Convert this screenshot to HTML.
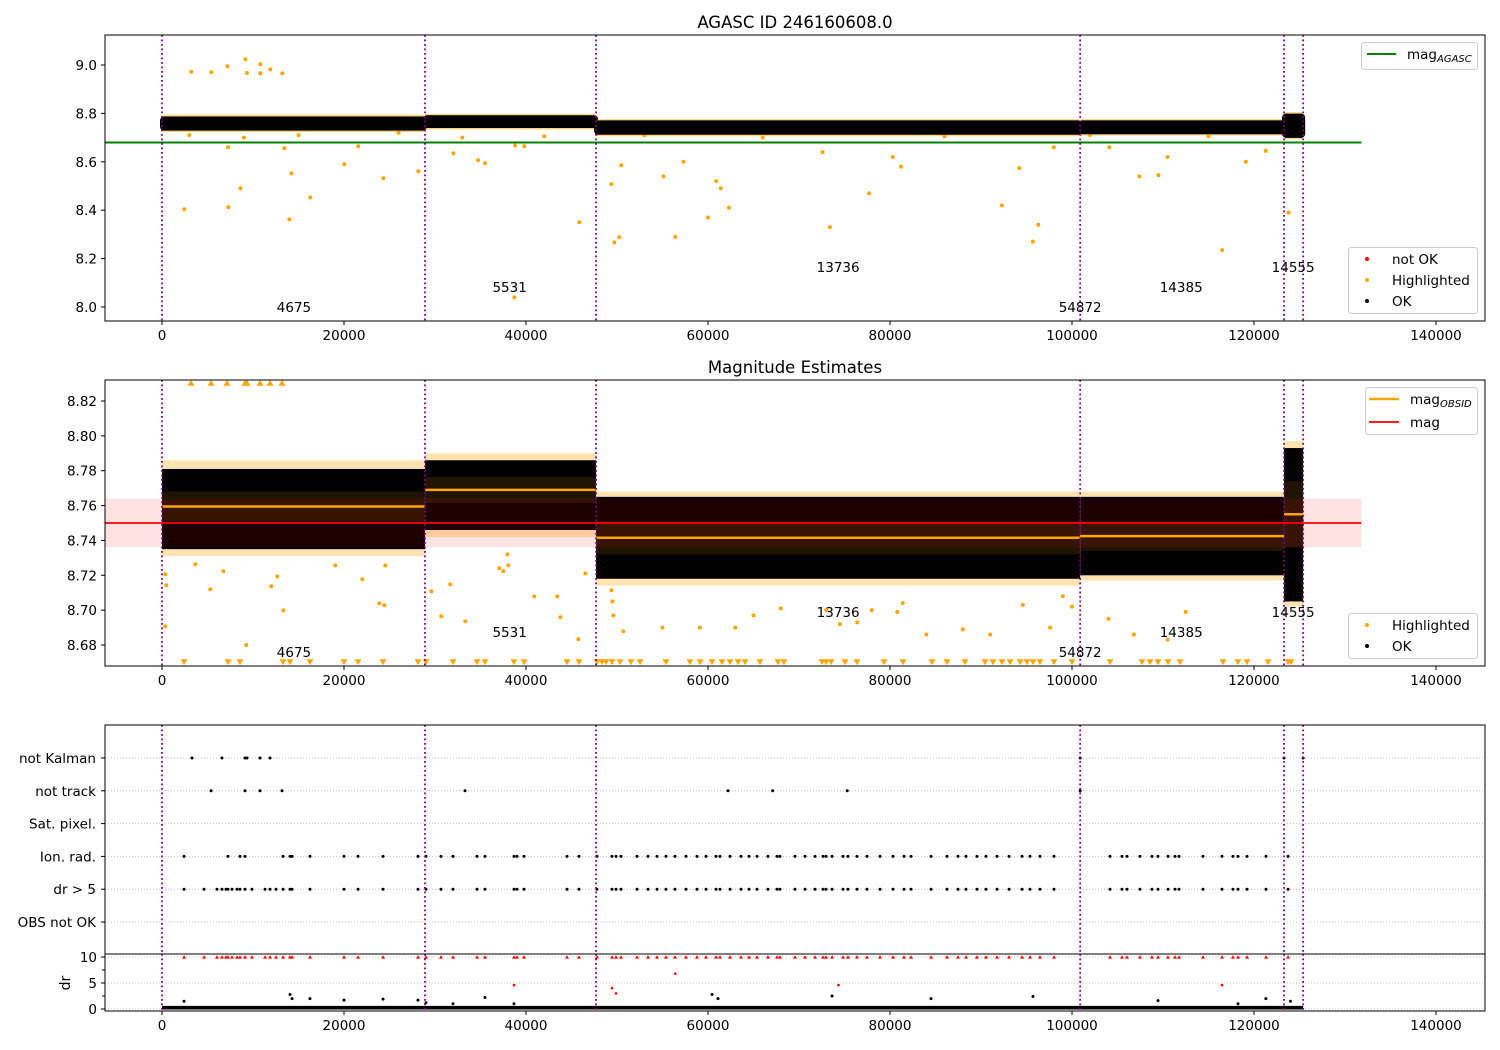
<!DOCTYPE html>
<html><head><meta charset="utf-8"><title>AGASC ID 246160608.0</title>
<style>
html,body{margin:0;padding:0;background:#fff;}
svg{display:block;font-family:"DejaVu Sans","Liberation Sans",sans-serif;}
</style></head>
<body>
<svg id="chart" width="1500" height="1050" viewBox="0 0 1500 1050" xmlns="http://www.w3.org/2000/svg">
<defs>
<clipPath id="c1"><rect x="105" y="35" width="1380" height="286"/></clipPath>
<clipPath id="c2"><rect x="105" y="380" width="1380" height="286"/></clipPath>
<clipPath id="c3"><rect x="105" y="725" width="1380" height="229"/></clipPath>
<clipPath id="c4"><rect x="105" y="954" width="1380" height="57"/></clipPath>
</defs>
<text x="795" y="28" font-size="16.5" text-anchor="middle">AGASC ID 246160608.0</text>
<text x="795" y="373" font-size="16.5" text-anchor="middle">Magnitude Estimates</text>
<text x="70" y="983" font-size="14" text-anchor="middle" transform="rotate(-90 70 983)">dr</text>
<g id="g1"></g>
<g id="g2"></g>
<g id="g3"></g>
<g id="g4"></g>
</svg>
<script>
// ---------- data ----------
const obsIds = ["4675","5531","13736","54872","14385","14555"];
const obsStart = [0,28900,47700,100900,123300];
const obsEnd = [28900,47700,100900,123300,125400];
const obsMean = [8.7595,8.769,8.7415,8.7425,8.755];
const obsStd = [0.0086,0.0075,0.0095,0.0085,0.019];
const obsLo = [8.735,8.746,8.718,8.720,8.705];
const obsHi = [8.781,8.786,8.765,8.765,8.793];
const hlHi = [8.786,8.790,8.768,8.768,8.797];
const hlLo = [8.731,8.742,8.714,8.717,8.702];
const obsLabelX = [14500,38200,74300,100900,112000,124300];
const obsLabelMag1 = [8.0,8.083,8.165,8.0,8.083,8.165];
const obsBoundaries = [0,28900,47700,100900,123300,125400];
const magAgasc = 8.68;
const magMean = 8.75;
const magBand = 0.014;
const lineEndX = 131800;
const xTicks = [0,20000,40000,60000,80000,100000,120000,140000];
const y1Ticks = [8.0,8.2,8.4,8.6,8.8,9.0];
const y2Ticks = [8.68,8.70,8.72,8.74,8.76,8.78,8.80,8.82];
const catLabels = ["not Kalman","not track","Sat. pixel.","Ion. rad.","dr > 5","OBS not OK"];
const drTicks = [0,5,10];

const p1HlX = [3220,5420,7180,9160,9340,10800,10800,11900,13220,2450,7290,8610,13990,14210,16300,20030,24320,28170,21570,7250,13440,38720,45860,32010,34730,35500,38800,39810,49380,49710,50250,50470,60000,62300,73400,77700,92300,95700,96300,56400,55100,60900,61400,57300,94200,110500,107400,109500,116500,123800,119100,121300,81200,80300,72600,98000,104100,3000,9000,15000,26000,33000,42000,53000,66000,86000,102000,115000];
const p1HlY = [8.972,8.970,8.995,9.024,8.967,9.003,8.966,8.982,8.966,8.404,8.412,8.49,8.362,8.552,8.453,8.59,8.532,8.561,8.664,8.66,8.656,8.04,8.35,8.635,8.607,8.594,8.668,8.664,8.508,8.267,8.288,8.586,8.37,8.41,8.33,8.47,8.42,8.27,8.34,8.29,8.54,8.52,8.49,8.6,8.574,8.62,8.54,8.545,8.235,8.39,8.6,8.645,8.58,8.62,8.64,8.66,8.66,8.71,8.7,8.71,8.72,8.7,8.705,8.71,8.7,8.705,8.71,8.705];

const p2HlX = [360,470,360,3660,5310,6740,9260,12010,12670,13330,19040,22010,23880,24430,24540,29600,31680,30690,33330,37060,37500,38050,37950,40910,43440,43770,45750,46520,49380,49600,50690,49500,55000,59100,63000,73000,74500,76400,78000,80800,81400,88000,91000,94600,97600,100000,104000,106800,110500,112500,99000,65000,68000,84000];
const p2HlY = [8.7206,8.7143,8.6907,8.7263,8.712,8.7223,8.68,8.7137,8.7194,8.6999,8.7257,8.7177,8.7039,8.7028,8.7257,8.7108,8.7148,8.6965,8.6936,8.724,8.7223,8.7257,8.732,8.7079,8.7079,8.6959,8.6833,8.7211,8.7114,8.697,8.6879,8.705,8.69,8.69,8.69,8.70,8.692,8.693,8.70,8.699,8.704,8.689,8.686,8.703,8.690,8.702,8.695,8.686,8.683,8.699,8.708,8.697,8.701,8.686];
const p2TopClipX = [3190,5390,7140,9120,9340,10770,11870,13190];
const p2LowClipX = [2420,7250,8570,13300,14070,16260,20000,21540,24290,28130,29010,31980,34620,35490,38680,39780,44510,45820,47800,48350,48790,49450,50330,51540,52530,55380,58020,59120,60440,61540,62420,63300,64070,65710,67690,68350,72530,72970,73520,75050,76370,79340,81430,84620,86260,88240,90440,91320,92310,93190,94290,95050,95710,96480,98020,100000,104180,107690,108570,109450,110550,111870,116590,118240,119230,121540,123740,124070];

const notKalmanX = [3300,6590,9120,9340,10770,11870,100900,123300,125400];
const notTrackX = [5390,9120,10770,13190,33300,62200,67100,75300,100900];
const ionRadX = [2420,7250,8570,9120,13300,14070,14290,16260,20000,21540,24290,28130,29010,30660,31980,34620,35490,38680,39010,39780,44510,45820,47800,49450,49890,50440,52200,53410,54400,55380,56370,57580,58790,59780,60880,61320,62420,63630,64510,65380,66590,67580,67910,69560,70660,71760,72640,72970,73630,74840,75380,76370,77470,78900,80330,81540,82310,84510,86260,87470,88350,89560,90550,91760,93080,94510,95380,96480,98020,104180,105490,106040,107470,108790,109450,110550,111320,111760,114400,116480,117690,118240,119230,121320,123740];
const drGt5Extra = [4620,6040,6590,7030,7690,8240,9890,11320,11870,12530];
const drOutX = [2420,14070,14290,16260,20000,24290,28130,29010,31980,35490,38680,60440,61100,73630,84510,95710,109450,118240,121300,124000];
const drOutY = [1.5,2.8,2.0,2.0,1.7,1.9,1.7,1.2,1.0,2.2,1.0,2.8,2.0,2.5,2.0,2.4,1.6,1.0,2.0,1.5];
const drRedX = [38680,49450,49890,56400,74340,116480];
const drRedY = [4.6,4.0,3.0,6.8,4.6,4.6];

// ---------- scales ----------
const XS = 1274/140000;
function xs(v){return 162 + v*XS;}
function y1(m){return 307 - (m-8.0)*242;}
function y2(m){return 645 - (m-8.68)*1742.9;}
function yc(i){return 758 + i*32.8;}
function y4(d){return 1009 - d*5.2;}
const NS="http://www.w3.org/2000/svg";
function mk(tag, attrs, parent){
  const e=document.createElementNS(NS,tag);
  for(const k in attrs) e.setAttribute(k, attrs[k]);
  parent.appendChild(e); return e;
}
const g1=document.getElementById('g1'),g2=document.getElementById('g2'),g3=document.getElementById('g3'),g4=document.getElementById('g4');

function frame(g, top, bottom, name){
  const r=mk('rect',{x:105,y:top,width:1380,height:bottom-top,fill:'none',stroke:'#000','stroke-width':1},g);
  
  
}
function xAxis(g, bottom, name){
  xTicks.forEach((t,i)=>{
    const l=mk('line',{x1:xs(t),x2:xs(t),y1:bottom,y2:bottom+4,stroke:'#000'},g);
    
    
    const tx=mk('text',{x:xs(t),y:bottom+19,'font-size':13.5,'text-anchor':'middle'},g);
    tx.textContent=String(t);
    
    
  });
}
function yAxis(g, ticks, yf, fmt, name){
  ticks.forEach(t=>{
    const l=mk('line',{x1:101,x2:105,y1:yf(t),y2:yf(t),stroke:'#000'},g);
    
    
    const tx=mk('text',{x:97,y:yf(t)+5,'font-size':13.5,'text-anchor':'end'},g);
    tx.textContent=fmt(t);
    
    
  });
}
function vlines(g, top, bottom, clip){
  const gg=mk('g',{'clip-path':'url(#'+clip+')'},g);
  obsBoundaries.forEach(b=>{
    const l=mk('line',{x1:xs(b),x2:xs(b),y1:top,y2:bottom,stroke:'#800080','stroke-width':1.8,'stroke-dasharray':'1.8 2.7'},gg);
    
    
  });
}
function dot(g,x,y,r,fill,name){
  const c=mk('circle',{cx:x,cy:y,r:r,fill:fill},g);
  
  
}
function tri(g,x,y,up,fill,s,name){
  const d = up ? `M${x-s},${y+s*0.8} L${x+s},${y+s*0.8} L${x},${y-s*0.9} Z` : `M${x-s},${y-s*0.8} L${x+s},${y-s*0.8} L${x},${y+s*0.9} Z`;
  const p=mk('path',{d:d,fill:fill},g);
  
  
}
function obsLabels(g, yf){
  obsIds.forEach((id,i)=>{
    const t=mk('text',{x:xs(obsLabelX[i]),y:yf(i)+5,'font-size':13.5,'text-anchor':'middle'},g);
    t.textContent=id;
    
    
  });
}

// ---------- panel 1 ----------
(function(){
  const c=mk('g',{'clip-path':'url(#c1)'},g1);
  const ag=mk('line',{x1:105,x2:xs(lineEndX),y1:y1(magAgasc),y2:y1(magAgasc),stroke:'#008000','stroke-width':2},c);
  
  
  p1HlX.forEach((x,i)=>dot(c,xs(x),y1(p1HlY[i]),2,'#ffa500','highlighted-point'));
  obsStart.forEach((s,i)=>{
    const fr=mk('rect',{x:xs(s),y:y1(hlHi[i])-2,width:xs(obsEnd[i])-xs(s),height:y1(hlLo[i])-y1(hlHi[i])+4,fill:'#ffa500',opacity:0.5,rx:2},c);
    
    
    const r=mk('rect',{x:xs(s)-2,y:y1(obsHi[i])-1.5,width:xs(obsEnd[i])-xs(s)+4,height:y1(obsLo[i])-y1(obsHi[i])+3,fill:'#000',rx:4},c);
    
    
  });
  vlines(g1,35,321,'c1');
  obsLabels(g1, i=>y1(obsLabelMag1[i]));
  frame(g1,35,321,'top-panel-frame');
  xAxis(g1,321,'top-x-axis');
  yAxis(g1,y1Ticks,y1,t=>t.toFixed(1),'top-y-axis');
  const lg=mk('g',{},g1);  
  mk('rect',{x:1361.5,y:42.5,width:116,height:27,rx:3,fill:'#fff',stroke:'#ccc'},lg);
  mk('line',{x1:1367,x2:1396,y1:54,y2:54,stroke:'#008000','stroke-width':2},lg);
  const t=mk('text',{x:1407,y:59,'font-size':13.5},lg);
  t.innerHTML='mag<tspan font-size="10" font-style="italic" dy="3">AGASC</tspan>';
  const lb=mk('g',{},g1);  
  mk('rect',{x:1348.5,y:247.5,width:129,height:66,rx:3,fill:'#fff',stroke:'#ccc'},lb);
  [['not OK','#ff0000',259],['Highlighted','#ffa500',280],['OK','#000',301]].forEach(e=>{
    mk('circle',{cx:1367,cy:e[2],r:2,fill:e[1]},lb);
    const tt=mk('text',{x:1392,y:e[2]+5,'font-size':13.5},lb); tt.textContent=e[0];
  });
})();

// ---------- panel 2 ----------
(function(){
  const c=mk('g',{'clip-path':'url(#c2)'},g2);
  p2HlX.forEach((x,i)=>dot(c,xs(x),y2(p2HlY[i]),2,'#ffa500','highlighted-point'));
  p2TopClipX.forEach(x=>tri(c,xs(x),383,true,'#ffa500',3.5,'clipped-high-marker'));
  p2LowClipX.forEach(x=>tri(c,xs(x),662,false,'#ffa500',3.5,'clipped-low-marker'));
  obsStart.forEach((s,i)=>{
    const fr=mk('rect',{x:xs(s),y:y2(hlHi[i]),width:xs(obsEnd[i])-xs(s),height:y2(hlLo[i])-y2(hlHi[i]),fill:'#ffa500',opacity:0.3},c);
    
    
    const r=mk('rect',{x:xs(s),y:y2(obsHi[i]),width:xs(obsEnd[i])-xs(s),height:y2(obsLo[i])-y2(obsHi[i]),fill:'#000'},c);
    
    
  });
  const band=mk('rect',{x:105,y:y2(magMean+magBand),width:xs(lineEndX)-105,height:y2(magMean-magBand)-y2(magMean+magBand),fill:'#ff0000',opacity:0.11},c);
  
  
  obsStart.forEach((s,i)=>{
    const sd=mk('rect',{x:xs(s),y:y2(obsMean[i]+obsStd[i]),width:xs(obsEnd[i])-xs(s),height:y2(obsMean[i]-obsStd[i])-y2(obsMean[i]+obsStd[i]),fill:'#ffa500',opacity:0.12},c);
    
    
  });
  const ml=mk('line',{x1:105,x2:xs(lineEndX),y1:y2(magMean),y2:y2(magMean),stroke:'#ff0000','stroke-width':1.8},c);
  
  
  obsStart.forEach((s,i)=>{
    const l=mk('line',{x1:xs(s),x2:xs(obsEnd[i]),y1:y2(obsMean[i]),y2:y2(obsMean[i]),stroke:'#ffa500','stroke-width':2.5},c);
    
    
  });
  vlines(g2,380,666,'c2');
  obsLabels(g2, i=>y1(obsLabelMag1[i])+345);
  frame(g2,380,666,'middle-panel-frame');
  xAxis(g2,666,'middle-x-axis');
  yAxis(g2,y2Ticks,y2,t=>t.toFixed(2),'middle-y-axis');
  const lg=mk('g',{},g2);  
  mk('rect',{x:1365.5,y:387.5,width:112,height:47,rx:3,fill:'#fff',stroke:'#ccc'},lg);
  mk('line',{x1:1369,x2:1399,y1:399,y2:399,stroke:'#ffa500','stroke-width':2.5},lg);
  mk('line',{x1:1369,x2:1399,y1:422,y2:422,stroke:'#ff0000','stroke-width':1.8},lg);
  const t1=mk('text',{x:1410,y:404,'font-size':13.5},lg);
  t1.innerHTML='mag<tspan font-size="10" font-style="italic" dy="3">OBSID</tspan>';
  const t2=mk('text',{x:1410,y:427,'font-size':13.5},lg); t2.textContent='mag';
  const lb=mk('g',{},g2);  
  mk('rect',{x:1348.5,y:613.5,width:129,height:45,rx:3,fill:'#fff',stroke:'#ccc'},lb);
  [['Highlighted','#ffa500',625],['OK','#000',646]].forEach(e=>{
    mk('circle',{cx:1367,cy:e[2],r:2,fill:e[1]},lb);
    const tt=mk('text',{x:1392,y:e[2]+5,'font-size':13.5},lb); tt.textContent=e[0];
  });
})();

// ---------- panel 3 (flags) ----------
(function(){
  catLabels.forEach((lab,i)=>{
    const gl=mk('line',{x1:105,x2:1485,y1:yc(i),y2:yc(i),stroke:'#b0b0b0','stroke-width':0.8,'stroke-dasharray':'1 2'},g3);
    
    
    mk('line',{x1:101,x2:105,y1:yc(i),y2:yc(i),stroke:'#000'},g3);
    const t=mk('text',{x:96,y:yc(i)+5,'font-size':13.5,'text-anchor':'end'},g3);
    t.textContent=lab;
    
    
  });
  const c=mk('g',{'clip-path':'url(#c3)'},g3);
  notKalmanX.forEach(x=>dot(c,xs(x),yc(0),1.5,'#000','not-kalman-point'));
  notTrackX.forEach(x=>dot(c,xs(x),yc(1),1.5,'#000','not-track-point'));
  ionRadX.forEach(x=>dot(c,xs(x),yc(3),1.5,'#000','ion-rad-point'));
  ionRadX.concat(drGt5Extra).forEach(x=>dot(c,xs(x),yc(4),1.5,'#000','dr-gt-5-point'));
  vlines(g3,725,954,'c3');
  frame(g3,725,954,'flags-panel-frame');
})();

// ---------- panel 4 (dr) ----------
(function(){
  drTicks.forEach(d=>{
    const gl=mk('line',{x1:105,x2:1485,y1:y4(d),y2:y4(d),stroke:'#b0b0b0','stroke-width':0.8,'stroke-dasharray':'1 2'},g4);
    
    
  });
  [2.5,7.5].forEach(d=>mk('line',{x1:102,x2:105,y1:y4(d),y2:y4(d),stroke:'#000'},g4));
  const c=mk('g',{'clip-path':'url(#c4)'},g4);
  const band=mk('rect',{x:xs(0),y:y4(0.6),width:xs(125400)-xs(0),height:y4(-0.1)-y4(0.6),fill:'#000'},c);
  
  
  drOutX.forEach((x,i)=>dot(c,xs(x),y4(drOutY[i]),1.5,'#000','dr-point'));
  drRedX.forEach((x,i)=>dot(c,xs(x),y4(drRedY[i]),1.3,'#ff0000','dr-not-ok-point'));
  ionRadX.concat(drGt5Extra).forEach(x=>tri(c,xs(x),y4(10),true,'#ff0000',2,'dr-clipped-marker'));
  vlines(g4,954,1011,'c4');
  frame(g4,954,1011,'dr-panel-frame');
  xAxis(g4,1011,'bottom-x-axis');
  yAxis(g4,drTicks,y4,t=>String(t),'dr-y-axis');
})();
</script>
</body></html>
